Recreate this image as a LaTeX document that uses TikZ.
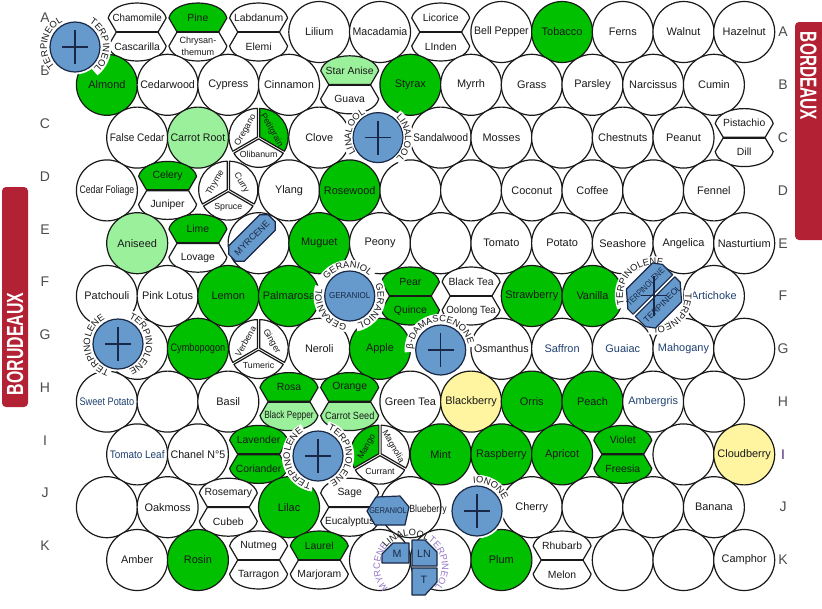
\documentclass[tikz,border=0pt]{standalone}
\usepackage{fontspec}
\setmainfont{Liberation Sans}
\usepackage{graphicx}
\usetikzlibrary{decorations.text}
\definecolor{gfill}{RGB}{0,192,0}
\definecolor{lgfill}{RGB}{155,240,155}
\definecolor{yfill}{RGB}{255,245,160}
\definecolor{bfill}{RGB}{102,153,204}
\definecolor{navy}{RGB}{25,40,70}
\definecolor{barred}{RGB}{178,34,52}
\definecolor{lblblue}{RGB}{31,64,112}
\definecolor{arcpurple}{RGB}{150,120,200}
\definecolor{ink}{RGB}{25,25,25}
\definecolor{rowpurple}{RGB}{75,44,111}
\newsavebox\fitbox
\newcommand\fitto[2]{\sbox\fitbox{#2}\ifdim\wd\fitbox>#1\relax\resizebox{#1}{\height}{\usebox\fitbox}\else\usebox\fitbox\fi}
\newcommand\fcirc{\fontsize{8.2}{9.5}\selectfont}
\newcommand\flens{\fontsize{7.8}{9}\selectfont}
\newcommand\ftri{\fontsize{6.6}{8}\selectfont}
\newcommand\farc{\fontsize{7}{8}\selectfont}
\newcommand\cel[5]{\node[cellc, fill=#4] (#1) at (#2,-#3) {\fitto{41pt}{\fcirc #5}};}
\newcommand\pairc[7]{%
 \begin{scope}[shift={(#2,-#3)}]
 \draw[lensline, fill=#5] (-29,14) .. controls (-24,34) and (24,34) .. (29,14) -- (21,0.3) -- (-21,0.3) -- cycle;
 \draw[lensline, fill=#7] (-29,-14) .. controls (-24,-34) and (24,-34) .. (29,-14) -- (21,-0.3) -- (-21,-0.3) -- cycle;
 \draw[lensline, line width=1.4pt] (-21,0) -- (21,0);
 \node[lbl] (#1t) at (0,14.5) {\fitto{37pt}{\flens #4}};
 \node[lbl] (#1b) at (0,-14.5) {\fitto{37pt}{\flens #6}};
 \end{scope}}
\newcommand\tripc[9]{%
 \begin{scope}[shift={(#2,-#3)}]
 \draw[lensline, fill=#5, shift={(150:1.3)}] (0,0) -- (90:28.5) arc[start angle=90, end angle=210, radius=28.5] -- cycle;
 \draw[lensline, fill=#7, shift={(30:1.3)}] (0,0) -- (-30:28.5) arc[start angle=-30, end angle=90, radius=28.5] -- cycle;
 \draw[lensline, fill=#9, shift={(270:1.3)}] (0,0) -- (210:28.5) arc[start angle=210, end angle=330, radius=28.5] -- cycle;
 \node[lbl, rotate=60] (#1l) at (150:15) {\fitto{28pt}{\ftri #4}};
 \node[lbl, rotate=-60] (#1r) at (30:15) {\fitto{28pt}{\ftri #6}};
 \node[lbl] (#1b) at (270:17) {\fitto{29pt}{\ftri #8}};
 \end{scope}}
\newcommand\bluedot[3]{%
 \fill[white] (#2,-#3) circle[radius=27.5];
 \node[bluec] (#1) at (#2,-#3) {};
 \draw[crossline, shift={(#2,-#3)}] (-13,0) -- (13,0) (0,-17) -- (0,17);}
\newcommand\arct[7]{%
 \pgfmathsetmacro\arcSa{#4+#5+3}\pgfmathsetmacro\arcEa{#4-#5-3}%
 \pgfmathsetmacro\arcSb{#4+#5+15}\pgfmathsetmacro\arcEb{#4-#5-15}%
 \pgfmathsetmacro\arcRb{#3+3.5}%
 \draw[arcband, shift={(#1,-#2)}] (\arcSa:\arcRb) arc[start angle=\arcSa, end angle=\arcEa, radius=\arcRb];
 \path[shift={(#1,-#2)}, decorate, decoration={text along path, text align=center, text={|\farc\color{#7}|#6}}] (\arcSb:#3) arc[start angle=\arcSb, end angle=\arcEb, radius=#3];}
\newcommand\arcto[7]{%
 \pgfmathsetmacro\arcSb{#4+#5+15}\pgfmathsetmacro\arcEb{#4-#5-15}%
 \path[shift={(#1,-#2)}, decorate, decoration={text along path, text align=center, text={|\farc\color{#7}|#6}}] (\arcSb:#3) arc[start angle=\arcSb, end angle=\arcEb, radius=#3];}
\begin{document}
\begin{tikzpicture}[x=0.75pt, y=0.75pt,
 cellc/.style={circle, draw=ink, line width=0.9pt, minimum size=45.75pt, inner sep=0pt, text=ink},
 lbl/.style={inner sep=0pt, text=ink},
 lensline/.style={draw=ink, line width=0.9pt, line join=round},
 bluec/.style={circle, draw=navy, fill=bfill, line width=0.9pt, minimum size=37.5pt, inner sep=0pt},
 bluepiece/.style={draw=navy, fill=bfill, line width=0.9pt, line join=round},
 crossline/.style={draw=navy, line width=0.8pt},
 arcband/.style={draw=white, line width=7pt},
 rowlbl/.style={inner sep=0pt, text=black!70, font=\fontsize{10.5}{12}\selectfont},
 bartext/.style={inner sep=0pt, text=white, font=\bfseries\fontsize{17.5}{18}\selectfont}]
\useasboundingbox (0,0) rectangle (822,-608);
\fill[white] (0,0) rectangle (822,-608);
% bars
\fill[barred, rounded corners=3pt] (2,-187) rectangle (28,-407);
\node[bartext, rotate=90] (lbar) at (15,-344) {\scalebox{0.68}[1]{BORUDEAUX}};
\fill[barred, rounded corners=3pt] (795,-22) rectangle (832,-240);
\node[bartext, rotate=-90] (rbar) at (808.5,-76) {\scalebox{0.66}[1]{BORDEAUX}};
% row letters
\foreach \L/\Y in {A/32,B/84.8,C/137.6,D/190.4,E/243.2,F/296,G/348.8,H/401.6,I/454.4,J/507.2,K/560}{
 \node[rowlbl] (l\L) at (45,{-\Y+14}) {\L};}
\foreach \L/\Y in {A/32,B/84.8,C/137.6,D/190.4,E/243.2,F/296,G/348.8,H/401.6,J/507.2,K/560}{
 \node[rowlbl] (r\L) at (783,-\Y) {\L};}
\node[rowlbl, text=rowpurple] (rI) at (783,-454.4) {I};
% Row A
\pairc{a2}{137.2}{32}{Chamomile}{white}{Cascarilla}{white}
\pairc{a3}{197.9}{32}{Pine}{gfill}{\fontsize{6.8}{7.2}\selectfont\shortstack{Chrysan-\\themum}}{white}
\pairc{a4}{258.6}{32}{Labdanum}{white}{Elemi}{white}
\cel{a5}{319.3}{32}{white}{Lilium}
\cel{a6}{380}{32}{white}{Macadamia}
\pairc{a7}{440.7}{32}{Licorice}{white}{LInden}{white}
\cel{a8}{501.4}{32}{white}{Bell Pepper}
\cel{a9}{562.1}{32}{gfill}{Tobacco}
\cel{a10}{622.8}{32}{white}{Ferns}
\cel{a11}{683.5}{32}{white}{Walnut}
\cel{a12}{744.2}{32}{white}{Hazelnut}
% Row B
\cel{b1}{106.9}{84.8}{gfill}{Almond}
\cel{b2}{167.6}{84.8}{white}{Cedarwood}
\cel{b3}{228.3}{84.8}{white}{Cypress}
\cel{b4}{289}{84.8}{white}{Cinnamon}
\pairc{b5}{349.7}{84.8}{Star Anise}{lgfill}{Guava}{white}
\cel{b6}{410.4}{84.8}{gfill}{Styrax}
\cel{b7}{471.1}{84.8}{white}{Myrrh}
\cel{b8}{531.8}{84.8}{white}{Grass}
\cel{b9}{592.5}{84.8}{white}{Parsley}
\cel{b10}{653.2}{84.8}{white}{Narcissus}
\cel{b11}{713.9}{84.8}{white}{Cumin}
% Row C
\cel{c1}{137.2}{137.6}{white}{False Cedar}
\cel{c2}{197.9}{137.6}{lgfill}{Carrot Root}
\tripc{c3}{258.6}{137.6}{Oregano}{white}{Petitgrain}{gfill}{Olibanum}{white}
\cel{c4}{319.3}{137.6}{white}{Clove}
\cel{c6}{440.7}{137.6}{white}{Sandalwood}
\cel{c7}{501.4}{137.6}{white}{Mosses}
\cel{c8}{562.1}{137.6}{white}{}
\cel{c9}{622.8}{137.6}{white}{Chestnuts}
\cel{c10}{683.5}{137.6}{white}{Peanut}
\pairc{c11}{744.2}{137.6}{Pistachio}{white}{Dill}{white}
% Row D
\cel{d1}{106.9}{190.4}{white}{Cedar Foliage}
\pairc{d2}{167.6}{190.4}{Celery}{gfill}{Juniper}{white}
\tripc{d3}{228.3}{190.4}{Thyme}{white}{Curry}{white}{Spruce}{white}
\cel{d4}{289}{190.4}{white}{Ylang}
\cel{d5}{349.7}{190.4}{gfill}{Rosewood}
\cel{d6}{410.4}{190.4}{white}{}
\cel{d7}{471.1}{190.4}{white}{}
\cel{d8}{531.8}{190.4}{white}{Coconut}
\cel{d9}{592.5}{190.4}{white}{Coffee}
\cel{d10}{653.2}{190.4}{white}{}
\cel{d11}{713.9}{190.4}{white}{Fennel}
% Row E
\cel{e1}{137.2}{243.2}{lgfill}{Aniseed}
\pairc{e2}{197.9}{243.2}{Lime}{gfill}{Lovage}{white}
\cel{e3}{258.6}{243.2}{white}{}
\cel{e4}{319.3}{243.2}{gfill}{Muguet}
\cel{e5}{380}{243.2}{white}{Peony}
\cel{e6}{440.7}{243.2}{white}{}
\cel{e7}{501.4}{243.2}{white}{Tomato}
\cel{e8}{562.1}{243.2}{white}{Potato}
\cel{e9}{622.8}{243.2}{white}{Seashore}
\cel{e10}{683.5}{243.2}{white}{Angelica}
\cel{e11}{744.2}{243.2}{white}{Nasturtium}
% Row F
\cel{f1}{106.9}{296}{white}{Patchouli}
\cel{f2}{167.6}{296}{white}{Pink Lotus}
\cel{f3}{228.3}{296}{gfill}{Lemon}
\cel{f4}{289}{296}{gfill}{Palmarosa}
\pairc{f6}{410.4}{296}{Pear}{gfill}{Quince}{gfill}
\pairc{f7}{471.1}{296}{Black Tea}{white}{Oolong Tea}{white}
\cel{f8}{531.8}{296}{gfill}{Strawberry}
\cel{f9}{592.5}{296}{gfill}{Vanilla}
\cel{f11}{713.9}{296}{white}{\color{lblblue}Artichoke}
% Row G
\cel{g2}{137.2}{348.8}{white}{}
\cel{g3}{197.9}{348.8}{gfill}{Cymbopogon}
\tripc{g4}{258.6}{348.8}{Verbena}{white}{Ginger}{white}{Tumeric}{white}
\cel{g5}{319.3}{348.8}{white}{Neroli}
\cel{g6}{380}{348.8}{gfill}{Apple}
\cel{g8}{501.4}{348.8}{white}{Osmanthus}
\cel{g9}{562.1}{348.8}{white}{\color{lblblue}Saffron}
\cel{g10}{622.8}{348.8}{white}{\color{lblblue}Guaiac}
\cel{g11}{683.5}{348.8}{white}{\color{lblblue}Mahogany}
\cel{g12}{744.2}{348.8}{white}{}
% Row H
\cel{h1}{106.9}{401.6}{white}{\color{lblblue}Sweet Potato}
\cel{h2}{167.6}{401.6}{white}{}
\cel{h3}{228.3}{401.6}{white}{Basil}
\pairc{h4}{289}{401.6}{Rosa}{gfill}{Black Pepper}{lgfill}
\pairc{h5}{349.7}{401.6}{Orange}{gfill}{Carrot Seed}{lgfill}
\cel{h6}{410.4}{401.6}{white}{Green Tea}
\cel{h7}{471.1}{401.6}{yfill}{Blackberry}
\cel{h8}{531.8}{401.6}{gfill}{Orris}
\cel{h9}{592.5}{401.6}{gfill}{Peach}
\cel{h10}{653.2}{401.6}{white}{\color{lblblue}Ambergris}
\cel{h11}{713.9}{401.6}{white}{}
% Row I
\cel{i1}{137.2}{454.4}{white}{\color{lblblue}Tomato Leaf}
\cel{i2}{197.9}{454.4}{white}{Chanel N°5}
\pairc{i3}{258.6}{454.4}{Lavender}{gfill}{Coriander}{gfill}
\tripc{i5}{380}{454.4}{Mango}{gfill}{Magnolia}{white}{Currant}{white}
\cel{i6}{440.7}{454.4}{gfill}{Mint}
\cel{i7}{501.4}{454.4}{gfill}{Raspberry}
\cel{i8}{562.1}{454.4}{gfill}{Apricot}
\pairc{i9}{622.8}{454.4}{Violet}{gfill}{Freesia}{gfill}
\cel{i10}{683.5}{454.4}{white}{}
\cel{i11}{744.2}{454.4}{yfill}{Cloudberry}
% Row J
\cel{j1}{106.9}{507.2}{white}{}
\cel{j2}{167.6}{507.2}{white}{Oakmoss}
\pairc{j3}{228.3}{507.2}{Rosemary}{white}{Cubeb}{white}
\cel{j4}{289}{507.2}{gfill}{Lilac}
\pairc{j5}{349.7}{507.2}{Sage}{white}{Eucalyptus}{white}
\cel{j6}{410.4}{507.2}{white}{}
\cel{j8}{531.8}{507.2}{white}{Cherry}
\cel{j9}{592.5}{507.2}{white}{}
\cel{j10}{653.2}{507.2}{white}{}
\cel{j11}{713.9}{507.2}{white}{Banana}
% Row K
\cel{k1}{137.2}{560}{white}{Amber}
\cel{k2}{197.9}{560}{gfill}{Rosin}
\pairc{k3}{258.6}{560}{Nutmeg}{white}{Tarragon}{white}
\pairc{k4}{319.3}{560}{Laurel}{gfill}{Marjoram}{white}
\cel{k5}{380}{560}{white}{}
\cel{k6}{440.7}{560}{white}{}
\cel{k7}{501.4}{560}{gfill}{Plum}
\pairc{k8}{562.1}{560}{Rhubarb}{white}{Melon}{white}
\cel{k9}{622.8}{560}{white}{}
\cel{k10}{683.5}{560}{white}{}
\cel{k11}{744.2}{560}{white}{Camphor}
% MYRCENE in E
\begin{scope}[shift={(252,-238)}, rotate=45]
 \draw[bluepiece] (-28,-5) -- (-28,5) -- (-22,11) -- (22,11) -- (28,5) -- (28,-5) -- (22,-11) -- (-22,-11) -- cycle;
 \node[lbl, rotate=45, text=navy] (myr) at (0,0) {\fitto{34pt}{\fontsize{6.8}{8}\selectfont MYRCENE}};
\end{scope}
% blue markers
\bluedot{ba}{75}{47}
\arct{75}{47}{28}{170}{54}{TERPINEOL}{ink}
\arct{75}{47}{28}{5}{54}{TERPINEOL}{ink}
\bluedot{bc}{378}{137.6}
\arct{378}{137.6}{27}{166}{48}{LINALOOL}{ink}
\arct{378}{137.6}{27}{0}{48}{LINALOOL}{ink}
% GERANIOL F
\fill[white] (349.7,-296) circle[radius=27.5];
\node[bluec] (bf) at (349.7,-296) {\fitto{31pt}{\fontsize{6.5}{8}\selectfont\color{navy}GERANIOL}};
\arct{349.7}{296}{28}{95}{50}{GERANIOL}{ink}
\arct{349.7}{296}{28}{-25}{50}{GERANIOL}{ink}
\arct{349.7}{296}{28}{215}{50}{GERANIOL}{ink}
% TERPINOLENE / TERPINEOL F
\fill[white] (654,-295.5) circle[radius=29];
\arct{654}{295.5}{31}{135}{63}{TERPINOLENE}{ink}
\arct{654}{295.5}{31}{-45}{51}{TERPINEOL}{ink}
\begin{scope}[shift={(654,-295.5)}, rotate=45]
 \draw[bluepiece] (-28,1.5) -- (-28,9) -- (-15,24) -- (22,24) -- (28,16) -- (28,1.5) -- cycle;
 \draw[bluepiece] (-28,-1.5) -- (-28,-16) -- (-22,-24) -- (15,-24) -- (28,-9) -- (28,-1.5) -- cycle;
 \node[lbl, rotate=45, text=navy] (tpa) at (0,12) {\fitto{37pt}{\fontsize{6.5}{7}\selectfont TERPINOLENE}};
 \node[lbl, rotate=45, text=navy] (tpb) at (0,-12) {\fitto{37pt}{\fontsize{6.5}{7}\selectfont TERPINEOL}};
\end{scope}
\draw[crossline, shift={(654,-295.5)}] (-13,0) -- (13,0) (0,-20) -- (0,20);
% TERPINOLENE G
\bluedot{bg}{118}{344}
\arct{118}{344}{28}{185}{68}{TERPINOLENE}{ink}
\arct{118}{344}{28}{0}{68}{TERPINOLENE}{ink}
% beta-damascenone
\bluedot{bd}{440.7}{350}
\arct{440.7}{350}{28}{95}{86}{β-DAMASCENONE}{ink}
% TERPINOLENE I
\bluedot{bi}{318}{456}
\arct{318}{456}{28}{189}{68}{TERPINOLENE}{ink}
\arct{318}{456}{28}{2}{68}{TERPINOLENE}{ink}
% IONONE
\bluedot{bj}{477}{511}
\arct{477}{511}{28}{60}{38}{IONONE}{ink}
% GERANIOL / Blueberry J
\begin{scope}[shift={(388,-511)}]
 \draw[bluepiece] (-21,0) -- (-12,14) -- (12,15) -- (21,4) -- (17,-14) -- (-13,-14) -- cycle;
\end{scope}
\node[lbl, text=navy] (jger) at (388,-511) {\fitto{28pt}{\fontsize{6.3}{7}\selectfont GERANIOL}};
\node[lbl] (jblue) at (428,-510) {\fitto{28pt}{\flens Blueberry}};
% quad K
\begin{scope}[shift={(411,-567)}]
 \draw[bluepiece] (-2,4) -- (-2,24) -- (-18,24) -- (-29,13) -- (-29,4) -- cycle;
 \draw[bluepiece] (1,1) -- (1,27) -- (14,27) -- (26,15) -- (26,1) -- cycle;
 \draw[bluepiece] (1,-1) -- (26,-1) -- (26,-15) -- (14,-28) -- (1,-28) -- cycle;
 \node[lbl, text=navy] (qm) at (-14,13) {\fontsize{8}{9}\selectfont M};
 \node[lbl, text=navy] (qln) at (13,13) {\fontsize{8}{9}\selectfont LN};
 \node[lbl, text=navy] (qt) at (13,-13) {\fontsize{8}{9}\selectfont T};
\end{scope}
\arcto{411}{567}{31}{180}{43}{MYRCENE}{arcpurple}
\arcto{411}{567}{31}{100}{42}{LINALOOL}{ink}
\arcto{411}{567}{31}{8}{49}{TERPINEOL}{arcpurple}
\end{tikzpicture}
\end{document}
